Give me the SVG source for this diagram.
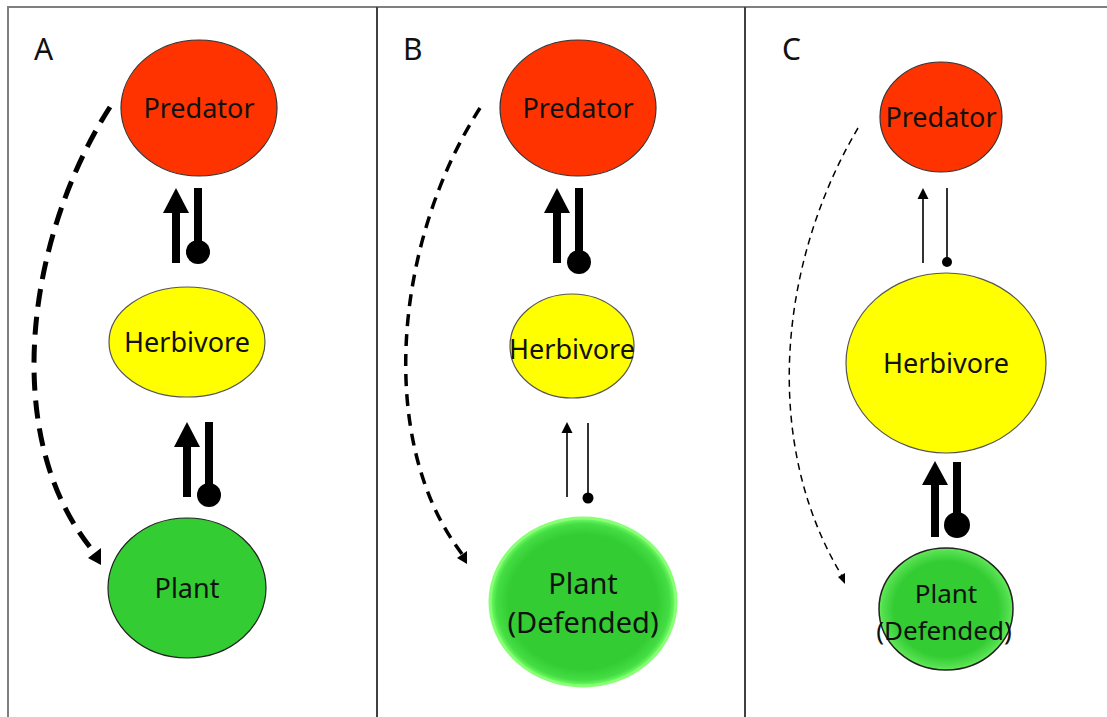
<svg xmlns="http://www.w3.org/2000/svg" width="1107" height="717" viewBox="0 0 1107 717">
<style>
.frame{stroke:#7f7f7f;stroke-width:2;fill:none}
.div{stroke:#404040;stroke-width:2}
.pred{fill:#ff3300;stroke:#333;stroke-width:1.2}
.herb{fill:#ffff00;stroke:#555;stroke-width:1.2}
.plant{fill:#33cc33;stroke:#222;stroke-width:1.2}
text{font-family:"Noto Sans","Liberation Sans",sans-serif;fill:#111;text-anchor:middle}
.lbl{font-size:30px;text-anchor:start}
.nm{font-size:27px}
.big{font-size:29px}
.bigC{font-size:26px}
.thick{stroke:#000;stroke-width:8;fill:none}
.thin{stroke:#333;stroke-width:2;fill:none}
.dashA{stroke:#000;stroke-width:5;fill:none;stroke-dasharray:18 10}
.dashB{stroke:#000;stroke-width:3.5;fill:none;stroke-dasharray:12 8}
.dashC{stroke:#000;stroke-width:1.5;fill:none;stroke-dasharray:7 5}
</style>
<defs>
<radialGradient id="gB" cx="50%" cy="50%" r="50%">
<stop offset="0.8" stop-color="#33cc33"/>
<stop offset="0.93" stop-color="#44dd44"/>
<stop offset="1" stop-color="#77ff66"/>
</radialGradient>
<radialGradient id="gC" cx="50%" cy="50%" r="50%">
<stop offset="0.78" stop-color="#33cc33"/>
<stop offset="0.95" stop-color="#55e050"/>
<stop offset="1" stop-color="#66ee55"/>
</radialGradient>
</defs>
<g id="frame">
<path class="frame" d="M8,717 V7 H1107"/>
<line class="div" x1="377" y1="7" x2="377" y2="717"/>
<line class="div" x1="745" y1="7" x2="745" y2="717"/>
</g>
<g id="labels">
<text class="lbl" x="34" y="60">A</text>
<text class="lbl" x="403" y="60">B</text>
<text class="lbl" x="782" y="60">C</text>
</g>
<g id="A-predator"><ellipse class="pred" cx="199" cy="108" rx="78" ry="68"/><text class="nm" x="199" y="118">Predator</text></g>
<g id="A-herbivore"><ellipse class="herb" cx="187" cy="342" rx="78" ry="55"/><text class="nm" x="187" y="352">Herbivore</text></g>
<g id="A-plant"><ellipse class="plant" cx="187" cy="588" rx="79" ry="70"/><text class="nm" x="187" y="598">Plant</text></g>
<g id="B-predator"><ellipse class="pred" cx="578" cy="108" rx="78" ry="68"/><text class="nm" x="578" y="118">Predator</text></g>
<g id="B-herbivore"><ellipse class="herb" cx="572" cy="346" rx="62" ry="52"/><text class="nm" x="572" y="359">Herbivore</text></g>
<g id="B-plant"><ellipse cx="583" cy="602" rx="93" ry="84" fill="url(#gB)" stroke="#88ff77" stroke-width="3"/><text class="big" x="583" y="594">Plant</text><text class="big" x="583" y="633">(Defended)</text></g>
<g id="C-predator"><ellipse class="pred" cx="941" cy="117" rx="61" ry="55"/><text class="nm" x="941" y="127">Predator</text></g>
<g id="C-herbivore"><ellipse class="herb" cx="946" cy="363" rx="100" ry="90"/><text class="nm" x="946" y="373">Herbivore</text></g>
<g id="C-plant"><ellipse cx="946" cy="609" rx="67" ry="61" fill="url(#gC)" stroke="#222" stroke-width="1.5"/><text class="bigC" x="946" y="603">Plant</text><text class="bigC" x="944" y="640">(Defended)</text></g>
<g id="connectors">
<line class="thick" x1="176" y1="263" x2="176" y2="208"/><polygon points="163,213 189,213 176,188"/>
<line class="thick" x1="198" y1="188" x2="198" y2="250"/><circle cx="198" cy="252" r="12"/>
<line class="thick" x1="187" y1="497" x2="187" y2="442"/><polygon points="174,447 200,447 187,422"/>
<line class="thick" x1="209" y1="422" x2="209" y2="493"/><circle cx="209" cy="495" r="12"/>
<path class="dashA" d="M110,107 C25,240 0,440 94,552"/><polygon points="88,558 101,548 101,565"/>
<line class="thick" x1="557" y1="263" x2="557" y2="208"/><polygon points="544,213 570,213 557,188"/>
<line class="thick" x1="579" y1="188" x2="579" y2="260"/><circle cx="579" cy="262" r="12"/>
<line class="thin" x1="567" y1="497" x2="567" y2="430"/><polygon points="561.5,433 572.5,433 567,422"/>
<line class="thin" x1="588" y1="423" x2="588" y2="497"/><circle cx="588" cy="498" r="5.5"/>
<path class="dashB" d="M480,108 C395,240 375,440 462,554"/><polygon points="457,558 467,551 467,564"/>
<line class="thin" x1="923" y1="263" x2="923" y2="196"/><polygon points="917.5,199 928.5,199 923,188"/>
<line class="thin" x1="947" y1="188" x2="947" y2="262"/><circle cx="947" cy="262" r="5"/>
<line class="thick" x1="935" y1="537" x2="935" y2="480"/><polygon points="922,485 948,485 935,461"/>
<line class="thick" x1="957" y1="462" x2="957" y2="523"/><circle cx="957" cy="525" r="13"/>
<path class="dashC" d="M858,128 C780,260 760,440 842,576"/><polygon points="838,577 845,573 845,584"/>
</g>
</svg>
